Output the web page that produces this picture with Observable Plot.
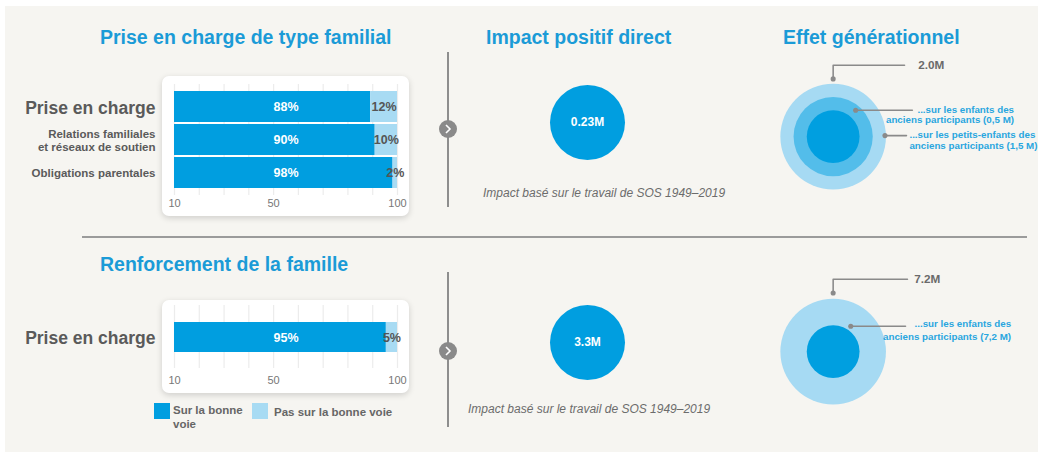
<!DOCTYPE html>
<html lang="fr"><head><meta charset="utf-8">
<script src="https://cdn.jsdelivr.net/npm/d3@7"></script>
<script src="https://cdn.jsdelivr.net/npm/@observablehq/plot@0.6"></script>
<style>
html,body{margin:0;padding:0;background:#fff;}
#root{position:relative;width:1038px;height:453px;overflow:hidden;font-family:"Liberation Sans",Arial,Helvetica,sans-serif;}
#panel{position:absolute;left:5px;top:6px;right:0;bottom:1px;background:#f6f5f1;}
.abs{position:absolute;}
.title{position:absolute;font-size:19.5px;line-height:19.5px;font-weight:bold;color:#1b9bd7;white-space:nowrap;}
.card{position:absolute;background:#fff;border-radius:7px;box-shadow:0 2px 6px rgba(0,0,0,0.16);}
.vsep{position:absolute;left:447px;width:2px;background:#8e8e8e;}
.hsep{position:absolute;left:82px;width:945px;top:236px;height:2px;background:#9b9b9b;}
.caption{position:absolute;font-size:12px;font-style:italic;color:#6c6c6c;white-space:nowrap;line-height:14px;}
.sw{position:absolute;width:16px;height:16px;}
.lg{position:absolute;font-size:11.5px;font-weight:bold;color:#666;line-height:14px;white-space:nowrap;}
</style></head><body>
<div id="root">
  <div id="panel"></div>
  <div class="title" style="left:100px;top:28px">Prise en charge de type familial</div>
  <div class="title" style="left:486px;top:28px">Impact positif direct</div>
  <div class="title" style="left:783px;top:28px">Effet générationnel</div>
  <div class="title" style="left:100px;top:255px">Renforcement de la famille</div>
  <div class="hsep"></div>
  <div class="vsep" style="top:52px;height:155px"></div>
  <div class="vsep" style="top:272px;height:155px"></div>
  <svg class="abs" style="left:438px;top:119px" width="20" height="20"><circle cx="10" cy="10" r="9" fill="#8a8a8a"/><path d="M8 6 L12 10 L8 14" fill="none" stroke="#fff" stroke-width="1.6"/></svg>
  <svg class="abs" style="left:438px;top:341px" width="20" height="20"><circle cx="10" cy="10" r="9" fill="#8a8a8a"/><path d="M8 6 L12 10 L8 14" fill="none" stroke="#fff" stroke-width="1.6"/></svg>
  <div class="card" style="left:162px;top:76px;width:247px;height:140px"></div>
  <div class="card" style="left:162px;top:300px;width:247px;height:93px"></div>
  <div id="bars1" class="abs" style="left:0;top:76px"></div>
  <div id="bars2" class="abs" style="left:0;top:300px"></div>
  <div id="direct1" class="abs" style="left:537px;top:72px"></div>
  <div id="direct2" class="abs" style="left:537px;top:292px"></div>
  <div id="gen1" class="abs" style="left:774px;top:53px"></div>
  <div id="gen2" class="abs" style="left:774px;top:268px"></div>
  <div id="cap1" class="caption" style="left:483px;top:186px"></div>
  <div id="cap2" class="caption" style="left:468px;top:402px"></div>
  <div class="sw" style="left:154px;top:403px;background:#009ee0"></div>
  <div id="lg1" class="lg" style="left:173px;top:403px;width:75px;white-space:normal"></div>
  <div class="sw" style="left:252px;top:403px;background:#a8dbf3"></div>
  <div id="lg2" class="lg" style="left:274px;top:405px"></div>
</div>
<script>
// ---- data ----
const familyCategories = ["Prise en charge", "Relations familiales\net réseaux de soutien", "Obligations parentales"];
const familyOnTrack = [88, 90, 98];
const familyOffTrack = [12, 10, 2];
const strengthCategories = ["Prise en charge"];
const strengthOnTrack = [95];
const strengthOffTrack = [5];
const axisTickValues = [10, 50, 100];
const legendLabels = ["Sur la bonne voie", "Pas sur la bonne voie"];
const directLabels = ["0.23M", "3.3M"];
const captionText = "Impact basé sur le travail de SOS 1949–2019";
const genTotals = ["2.0M", "7.2M"];
const genTopRings = ["Anciens participants", "...sur les enfants des\nanciens participants (0,5 M)", "...sur les petits-enfants des\nanciens participants (1,5 M)"];
const genBottomRings = ["Anciens participants", "...sur les enfants des\nanciens participants (7,2 M)"];

// ---- styles ----
const FONT = "Liberation Sans, Arial, Helvetica, sans-serif";
const baseStyle = {fontFamily: FONT, fontSize: "10px", background: "transparent", overflow: "visible"};
const DARK = "#009ee0", LIGHT = "#a8dbf3";

function barChart(cats, on, off, cfg) {
  const rows = cats.map((cat, i) => ({cat, on: on[i], off: off[i], i}));
  const pos = v => 10 + 0.9 * v; // share of the bar mapped onto the 10–100 axis
  return Plot.plot({
    width: 410, height: cfg.height,
    marginLeft: 174, marginRight: 13, marginTop: cfg.mTop, marginBottom: cfg.mBottom,
    style: baseStyle,
    x: {domain: [10, 100]},
    y: {domain: cats, axis: null, paddingInner: cfg.pad, paddingOuter: 0},
    marks: [
      Plot.ruleX(d3.range(10, 101, 10), {stroke: "#ececec", strokeWidth: 1.2, insetTop: -cfg.gridTop, insetBottom: -cfg.gridBottom}),
      Plot.barX(rows, {x1: 10, x2: d => pos(d.on), y: "cat", fill: DARK}),
      Plot.barX(rows, {x1: d => pos(d.on), x2: 100, y: "cat", fill: LIGHT}),
      Plot.text(rows, {x: 55, y: "cat", text: d => d.on + "%", fill: "#fff", fontSize: 12.5, fontWeight: "bold"}),
      Plot.text(rows, {x: d => (pos(d.on) + 100) / 2, y: "cat", text: d => d.off + "%", fill: "#555", fontSize: 12.5, fontWeight: "bold"}),
      Plot.axisX(axisTickValues, {tickSize: 0, tickPadding: cfg.tickPad, fontSize: 11, fill: "#777", label: null}),
      Plot.text(rows, {y: "cat", frameAnchor: "left", dx: -19, textAnchor: "end", text: "cat",
        fontSize: d => d.i === 0 ? 17.5 : 11.5, fontWeight: "bold", fill: "#5a5a5a", lineHeight: 1.17})
    ]
  });
}

function directChart(label) {
  return Plot.plot({
    width: 100, height: 100, margin: 0, style: baseStyle,
    marks: [
      Plot.dot([label], {frameAnchor: "middle", r: 37.5, fill: DARK}),
      Plot.text([label], {frameAnchor: "middle", text: d => d, fill: "#fff", fontSize: 12, fontWeight: "bold"})
    ]
  });
}

// leader layout (offsets in px from the ring centre, y upwards)
function genChart(ringLabels, total, layout) {
  const n = ringLabels.length;
  const rings = ringLabels.map((label, i) => ({label, t: i / (n - 1)})).reverse();
  const ann = [{text: total, kind: "total", ...layout.total}]
    .concat(layout.rings.map(a => ({text: ringLabels[a.ring], kind: "ring", ...a})));
  const linePts = ann.flatMap((a, k) => a.pts.map(([x, y]) => ({x, y, k})));
  const dots = ann.map(a => ({x: a.pts[0][0], y: a.pts[0][1]}));
  return Plot.plot({
    width: 270, height: 170, margin: 0, style: baseStyle,
    x: {domain: [-60, 210], range: [0, 270], axis: null},
    y: {domain: [-85, 85], range: [170, 0], axis: null},
    r: {type: "linear", domain: [0, 1], range: [27, 54]},
    color: {type: "linear", domain: [0, 1], range: ["#009fe0", "#a6daf3"], interpolate: "rgb"},
    marks: [
      Plot.dot(rings, {x: 0, y: 0, r: "t", fill: "t"}),
      Plot.line(linePts, {x: "x", y: "y", z: "k", stroke: "#8a8a8a", strokeWidth: 1.6}),
      Plot.dot(dots, {x: "x", y: "y", r: 2.6, fill: "#8a8a8a"}),
      Plot.text(ann.filter(a => a.kind === "total"), {x: "tx", y: "ty", text: "text", textAnchor: "start", fill: "#6a6a6a", fontSize: 12, fontWeight: "bold"}),
      Plot.text(ann.filter(a => a.kind === "ring" && a.anchor === "end"), {x: "tx", y: "ty", text: "text", textAnchor: "end", fill: "#29a6df", fontSize: 10, fontWeight: "bold", lineHeight: layout.lh}),
      Plot.text(ann.filter(a => a.kind === "ring" && a.anchor === "start"), {x: "tx", y: "ty", text: "text", textAnchor: "start", fill: "#29a6df", fontSize: 10, fontWeight: "bold", lineHeight: layout.lh})
    ]
  });
}

document.getElementById("bars1").append(barChart(familyCategories, familyOnTrack, familyOffTrack,
  {height: 140, mTop: 14, mBottom: 27, pad: 0.07, gridTop: 6, gridBottom: 6, tickPad: 10}));
document.getElementById("bars2").append(barChart(strengthCategories, strengthOnTrack, strengthOffTrack,
  {height: 93, mTop: 22, mBottom: 41, pad: 0, gridTop: 17, gridBottom: 16, tickPad: 24}));
document.getElementById("direct1").append(directChart(directLabels[0]));
document.getElementById("direct2").append(directChart(directLabels[1]));
document.getElementById("gen1").append(genChart(genTopRings, genTotals[0], {
  lh: 1.07,
  total: {pts: [[0, 59], [0, 73], [73, 73]], tx: 87, ty: 73},
  rings: [
    {ring: 1, pts: [[23, 27], [81, 27]], tx: 185, ty: 22.5, anchor: "end"},
    {ring: 2, pts: [[53, 1], [75, 1]], tx: 78, ty: -3.5, anchor: "start"}
  ]
}));
document.getElementById("gen2").append(genChart(genBottomRings, genTotals[1], {
  lh: 1.3,
  total: {pts: [[0, 60], [0, 74], [76, 74]], tx: 83, ty: 74},
  rings: [
    {ring: 1, pts: [[18, 26], [74, 26]], tx: 182, ty: 22.5, anchor: "end"}
  ]
}));
document.getElementById("cap1").textContent = captionText;
document.getElementById("cap2").textContent = captionText;
document.getElementById("lg1").textContent = legendLabels[0];
document.getElementById("lg2").textContent = legendLabels[1];
</script>
</body></html>
